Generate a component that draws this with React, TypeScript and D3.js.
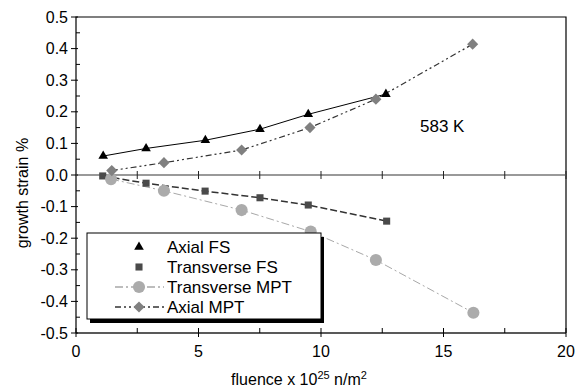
import { useEffect, useRef } from "react";
import * as d3 from "d3";

const axialFsX = [1.11, 2.86, 5.28, 7.51, 9.48, 12.65];
const axialFsY = [0.06, 0.084, 0.11, 0.145, 0.192, 0.256];
const transFsX = [1.09, 2.86, 5.27, 7.51, 9.48, 12.68];
const transFsY = [-0.003, -0.026, -0.051, -0.072, -0.095, -0.146];
const transMptX = [1.43, 3.59, 6.76, 9.58, 12.24, 16.22];
const transMptY = [-0.013, -0.05, -0.111, -0.179, -0.269, -0.436];
const axialMptX = [1.46, 3.59, 6.76, 9.55, 12.24, 16.19];
const axialMptY = [0.014, 0.039, 0.079, 0.15, 0.24, 0.414];

const legendNames = ["Axial FS", "Transverse FS", "Transverse MPT", "Axial MPT"];
const xTicks = [0, 5, 10, 15, 20];
const yTicks = [-0.5, -0.4, -0.3, -0.2, -0.1, 0, 0.1, 0.2, 0.3, 0.4, 0.5];

export default function App() {
  const svgRef = useRef<SVGSVGElement>(null);

  useEffect(() => {
    const svg = d3.select(svgRef.current);
    svg.selectAll("*").remove();

    const W = 583, H = 390;
    const left = 76, right = 566, top = 17, bottom = 333;
    const font = "Liberation Sans, Arial, sans-serif";

    const x = d3.scaleLinear().domain([0, 20]).range([left, right]);
    const y = d3.scaleLinear().domain([-0.5, 0.5]).range([bottom, top]);

    svg.attr("width", W).attr("height", H);
    svg.append("rect").attr("width", W).attr("height", H).attr("fill", "#fff");

    // frame
    svg.append("path")
      .attr("d", `M${left},${bottom}V${top}H${right}V${bottom}`)
      .attr("fill", "none").attr("stroke", "#000").attr("stroke-width", 1.2);
    svg.append("line")
      .attr("x1", left).attr("x2", right).attr("y1", bottom).attr("y2", bottom)
      .attr("stroke", "#222").attr("stroke-width", 1.5);

    // zero line with ticks
    svg.append("line")
      .attr("x1", left).attr("x2", right).attr("y1", y(0)).attr("y2", y(0))
      .attr("stroke", "#777").attr("stroke-width", 1.5);
    d3.range(2.5, 20.1, 2.5).forEach(v => {
      svg.append("line")
        .attr("x1", x(v)).attr("x2", x(v)).attr("y1", y(0) - 4).attr("y2", y(0) + 4)
        .attr("stroke", "#222").attr("stroke-width", 1);
    });

    // y axis ticks
    yTicks.forEach(v => {
      svg.append("line")
        .attr("x1", left - 5).attr("x2", left + 2).attr("y1", y(v)).attr("y2", y(v))
        .attr("stroke", "#000").attr("stroke-width", 1);
      svg.append("text")
        .attr("x", left - 8).attr("y", y(v))
        .attr("text-anchor", "end").attr("dominant-baseline", "central")
        .attr("font-family", font).attr("font-size", 16)
        .text(v.toFixed(1));
    });
    d3.range(-0.45, 0.5, 0.1).forEach(v => {
      svg.append("line")
        .attr("x1", left).attr("x2", left + 4).attr("y1", y(v)).attr("y2", y(v))
        .attr("stroke", "#000").attr("stroke-width", 1);
    });

    // x axis ticks
    xTicks.forEach(v => {
      svg.append("line")
        .attr("x1", x(v)).attr("x2", x(v)).attr("y1", bottom - 5).attr("y2", bottom + 4)
        .attr("stroke", "#000").attr("stroke-width", 1);
      svg.append("text")
        .attr("x", x(v)).attr("y", 357)
        .attr("text-anchor", "middle")
        .attr("font-family", font).attr("font-size", 16)
        .text(v);
    });
    [2.5, 7.5, 12.5, 17.5].forEach(v => {
      svg.append("line")
        .attr("x1", x(v)).attr("x2", x(v)).attr("y1", bottom - 5).attr("y2", bottom)
        .attr("stroke", "#000").attr("stroke-width", 1);
    });

    // axis titles
    const xt = svg.append("text")
      .attr("x", 299).attr("y", 385)
      .attr("text-anchor", "middle")
      .attr("font-family", font).attr("font-size", 16);
    xt.append("tspan").text("fluence x 10");
    xt.append("tspan").attr("dy", -6).attr("font-size", 11).text("25");
    xt.append("tspan").attr("dy", 6).text(" n/m");
    xt.append("tspan").attr("dy", -6).attr("font-size", 11).text("2");

    svg.append("text")
      .attr("transform", `translate(22,193) rotate(-90)`)
      .attr("text-anchor", "middle").attr("dominant-baseline", "central")
      .attr("font-family", font).attr("font-size", 16)
      .text("growth strain %");

    svg.append("text")
      .attr("x", 420).attr("y", 132)
      .attr("font-family", font).attr("font-size", 17)
      .text("583 K");

    // series
    const line = d3.line<[number, number]>().x(d => x(d[0])).y(d => y(d[1]));
    const zip = (xs: number[], ys: number[]) => xs.map((v, i) => [v, ys[i]] as [number, number]);

    const series = [
      { pts: zip(axialFsX, axialFsY), stroke: "#000", dash: "none", sw: 1, sym: d3.symbolTriangle, size: 40, rot: 0, fill: "#000" },
      { pts: zip(transFsX, transFsY), stroke: "#333", dash: "7,3", sw: 1.5, sym: d3.symbolSquare, size: 50, rot: 0, fill: "#4a4a4a" },
      { pts: zip(transMptX, transMptY), stroke: "#a8a8a8", dash: "8,3,2,3", sw: 1, sym: d3.symbolCircle, size: 115, rot: 0, fill: "#ababab" },
      { pts: zip(axialMptX, axialMptY), stroke: "#333", dash: "6,3,2,3,2,3", sw: 1.2, sym: d3.symbolSquare, size: 62, rot: 45, fill: "#808080" },
    ];

    series.forEach(s => {
      svg.append("path")
        .attr("d", line(s.pts))
        .attr("fill", "none")
        .attr("stroke", s.stroke)
        .attr("stroke-width", s.sw)
        .attr("stroke-dasharray", s.dash);
    });
    series.forEach(s => {
      svg.append("g").selectAll("path")
        .data(s.pts)
        .enter()
        .append("path")
        .attr("transform", d => `translate(${x(d[0])},${y(d[1])}) rotate(${s.rot})`)
        .attr("d", d3.symbol().type(s.sym).size(s.size)())
        .attr("fill", s.fill);
    });

    // legend
    const lg = svg.append("g");
    lg.append("rect").attr("x", 90).attr("y", 237).attr("width", 234).attr("height", 86).attr("fill", "#000");
    lg.append("rect").attr("x", 87).attr("y", 233).attr("width", 234).attr("height", 86)
      .attr("fill", "#fff").attr("stroke", "#000").attr("stroke-width", 1);

    legendNames.forEach((name, i) => {
      const s = series[i];
      const ry = 247 + i * 20;
      if (i >= 2) {
        lg.append("line")
          .attr("x1", 115).attr("x2", 164).attr("y1", ry).attr("y2", ry)
          .attr("stroke", s.stroke).attr("stroke-width", s.sw + 0.3)
          .attr("stroke-dasharray", s.dash);
      }
      lg.append("path")
        .attr("transform", `translate(139,${ry}) rotate(${s.rot})`)
        .attr("d", d3.symbol().type(s.sym).size(s.size)())
        .attr("fill", s.fill);
      lg.append("text")
        .attr("x", 167).attr("y", ry)
        .attr("dominant-baseline", "central")
        .attr("font-family", font).attr("font-size", 17)
        .text(name);
    });
  }, []);

  return <svg ref={svgRef} style={{ position: "absolute", left: 0, top: 0 }}></svg>;
}
